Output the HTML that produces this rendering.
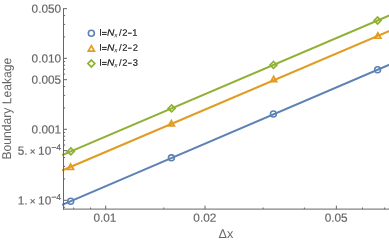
<!DOCTYPE html>
<html><head><meta charset="utf-8"><title>Boundary Leakage</title>
<style>html,body{margin:0;padding:0;background:#fff;width:389px;height:243px;overflow:hidden}svg{display:block;position:absolute;left:0;top:0;will-change:transform;text-rendering:geometricPrecision}</style></head>
<body>
<svg width="389" height="243" viewBox="0 0 389 243">
<rect width="389" height="243" fill="#fff"/>
<line x1="62.10" y1="204.88" x2="391.00" y2="63.96" stroke="#5E81B5" stroke-width="2.05"/>
<circle cx="70.70" cy="201.20" r="2.95" fill="none" stroke="#5E81B5" stroke-width="1.55"/>
<circle cx="171.40" cy="157.80" r="2.95" fill="none" stroke="#5E81B5" stroke-width="1.55"/>
<circle cx="273.40" cy="114.00" r="2.95" fill="none" stroke="#5E81B5" stroke-width="1.55"/>
<circle cx="377.60" cy="69.70" r="2.95" fill="none" stroke="#5E81B5" stroke-width="1.55"/>
<line x1="62.10" y1="170.53" x2="391.00" y2="30.21" stroke="#E19C24" stroke-width="2.05"/>
<path d="M70.60 163.95 L73.60 169.35 L67.60 169.35 Z" fill="none" stroke="#E19C24" stroke-width="1.7" stroke-linejoin="miter"/>
<path d="M171.40 120.55 L174.40 125.95 L168.40 125.95 Z" fill="none" stroke="#E19C24" stroke-width="1.7" stroke-linejoin="miter"/>
<path d="M273.70 76.35 L276.70 81.75 L270.70 81.75 Z" fill="none" stroke="#E19C24" stroke-width="1.7" stroke-linejoin="miter"/>
<path d="M377.90 32.85 L380.90 38.25 L374.90 38.25 Z" fill="none" stroke="#E19C24" stroke-width="1.7" stroke-linejoin="miter"/>
<line x1="62.10" y1="155.11" x2="391.00" y2="14.78" stroke="#8FB032" stroke-width="2.05"/>
<path d="M70.80 147.95 L74.25 151.40 L70.80 154.85 L67.35 151.40 Z" fill="none" stroke="#8FB032" stroke-width="1.7" stroke-linejoin="miter"/>
<path d="M171.60 104.95 L175.05 108.40 L171.60 111.85 L168.15 108.40 Z" fill="none" stroke="#8FB032" stroke-width="1.7" stroke-linejoin="miter"/>
<path d="M273.50 61.50 L276.95 64.95 L273.50 68.40 L270.05 64.95 Z" fill="none" stroke="#8FB032" stroke-width="1.7" stroke-linejoin="miter"/>
<path d="M377.60 17.05 L381.05 20.50 L377.60 23.95 L374.15 20.50 Z" fill="none" stroke="#8FB032" stroke-width="1.7" stroke-linejoin="miter"/>
<g stroke="#666666" stroke-width="1" fill="none">
<line x1="63.5" y1="8.17" x2="63.5" y2="209.6"/>
<line x1="63.0" y1="209.1" x2="389" y2="209.1"/>
<line x1="63.5" y1="8.67" x2="67.0" y2="8.67"/>
<line x1="63.5" y1="58.30" x2="67.0" y2="58.30"/>
<line x1="63.5" y1="79.67" x2="67.0" y2="79.67"/>
<line x1="63.5" y1="129.30" x2="67.0" y2="129.30"/>
<line x1="63.5" y1="150.67" x2="67.0" y2="150.67"/>
<line x1="63.5" y1="200.30" x2="67.0" y2="200.30"/>
<line x1="63.5" y1="15.55" x2="65.1" y2="15.55"/>
<line x1="63.5" y1="24.42" x2="65.1" y2="24.42"/>
<line x1="63.5" y1="36.93" x2="65.1" y2="36.93"/>
<line x1="63.5" y1="61.55" x2="65.1" y2="61.55"/>
<line x1="63.5" y1="65.18" x2="65.1" y2="65.18"/>
<line x1="63.5" y1="69.30" x2="65.1" y2="69.30"/>
<line x1="63.5" y1="74.05" x2="65.1" y2="74.05"/>
<line x1="63.5" y1="86.55" x2="65.1" y2="86.55"/>
<line x1="63.5" y1="95.42" x2="65.1" y2="95.42"/>
<line x1="63.5" y1="107.93" x2="65.1" y2="107.93"/>
<line x1="63.5" y1="132.55" x2="65.1" y2="132.55"/>
<line x1="63.5" y1="136.18" x2="65.1" y2="136.18"/>
<line x1="63.5" y1="140.30" x2="65.1" y2="140.30"/>
<line x1="63.5" y1="145.05" x2="65.1" y2="145.05"/>
<line x1="63.5" y1="157.55" x2="65.1" y2="157.55"/>
<line x1="63.5" y1="166.42" x2="65.1" y2="166.42"/>
<line x1="63.5" y1="178.93" x2="65.1" y2="178.93"/>
<line x1="63.5" y1="203.55" x2="65.1" y2="203.55"/>
<line x1="63.5" y1="207.18" x2="65.1" y2="207.18"/>
<line x1="105.70" y1="209.1" x2="105.70" y2="205.6"/>
<line x1="205.04" y1="209.1" x2="205.04" y2="205.6"/>
<line x1="336.36" y1="209.1" x2="336.36" y2="205.6"/>
<line x1="73.72" y1="209.1" x2="73.72" y2="207.5"/>
<line x1="90.60" y1="209.1" x2="90.60" y2="207.5"/>
<line x1="163.81" y1="209.1" x2="163.81" y2="207.5"/>
<line x1="263.15" y1="209.1" x2="263.15" y2="207.5"/>
<line x1="304.38" y1="209.1" x2="304.38" y2="207.5"/>
<line x1="362.49" y1="209.1" x2="362.49" y2="207.5"/>
<line x1="384.58" y1="209.1" x2="384.58" y2="207.5"/>
</g>
<g font-family="Liberation Sans, sans-serif" font-size="11.8" fill="#666666" stroke="#666666" stroke-width="0.15">
<text transform="matrix(1 0.0005 0 1 61.10 12.87)" text-anchor="end">0.050</text>
<text transform="matrix(1 0.0005 0 1 61.10 62.50)" text-anchor="end">0.010</text>
<text transform="matrix(1 0.0005 0 1 61.10 83.87)" text-anchor="end">0.005</text>
<text transform="matrix(1 0.0005 0 1 61.10 133.50)" text-anchor="end">0.001</text>
<text transform="matrix(1 0.0005 0 1 61.10 154.87)" text-anchor="end" word-spacing="-0.9">5. <tspan font-size="10">×</tspan> 10<tspan font-size="8.7" dy="-4.6">−4</tspan></text>
<text transform="matrix(1 0.0005 0 1 61.10 204.50)" text-anchor="end" word-spacing="-0.9">1. <tspan font-size="10">×</tspan> 10<tspan font-size="8.7" dy="-4.6">−4</tspan></text>
<text transform="matrix(1 0.0005 0 1 104.90 221.70)" text-anchor="middle">0.01</text>
<text transform="matrix(1 0.0005 0 1 204.84 221.70)" text-anchor="middle">0.02</text>
<text transform="matrix(1 0.0005 0 1 336.16 221.70)" text-anchor="middle">0.05</text>
</g>
<g font-family="Liberation Sans, sans-serif" font-size="12" fill="#666666">
<text transform="matrix(1 0.0005 0 1 218.60 237.90)" font-size="12.6">Δx</text>
<text transform="matrix(0.0005 -0.955 1 0.0005 11.1 159.5)" font-size="12.7">Boundary Leakage</text>
</g>
<circle cx="91.35" cy="33.30" r="3.0" fill="none" stroke="#5E81B5" stroke-width="1.6"/>
<g font-family="Liberation Sans, sans-serif" font-size="9.4" fill="#111111" stroke="#111111" stroke-width="0.12"><text transform="matrix(1 0.0005 0 1 99.50 35.75)" >l</text><rect x="102.0" y="31.90" width="4.7" height="0.9" stroke="none"/><rect x="102.0" y="33.95" width="4.7" height="0.9" stroke="none"/><text transform="matrix(1 0.0005 0 1 107.05 35.75)" font-style="italic" textLength="7.4" lengthAdjust="spacingAndGlyphs">N</text><text transform="matrix(1 0.0005 0 1 114.30 37.25)" font-style="italic" font-size="6.4" stroke="none">x</text><text transform="matrix(1 0.0005 0 1 119.00 35.75)" >/</text><text transform="matrix(1 0.0005 0 1 122.20 35.75)" >2</text><rect x="127.9" y="32.68" width="3.8" height="1.0" stroke="none"/><text transform="matrix(1 0.0005 0 1 132.20 35.75)" >1</text></g>
<path d="M91.35 45.70 L94.40 51.10 L88.30 51.10 Z" fill="none" stroke="#E19C24" stroke-width="1.7" stroke-linejoin="miter"/>
<g font-family="Liberation Sans, sans-serif" font-size="9.4" fill="#111111" stroke="#111111" stroke-width="0.12"><text transform="matrix(1 0.0005 0 1 99.50 50.75)" >l</text><rect x="102.0" y="46.90" width="4.7" height="0.9" stroke="none"/><rect x="102.0" y="48.95" width="4.7" height="0.9" stroke="none"/><text transform="matrix(1 0.0005 0 1 107.05 50.75)" font-style="italic" textLength="7.4" lengthAdjust="spacingAndGlyphs">N</text><text transform="matrix(1 0.0005 0 1 114.30 52.25)" font-style="italic" font-size="6.4" stroke="none">x</text><text transform="matrix(1 0.0005 0 1 119.00 50.75)" >/</text><text transform="matrix(1 0.0005 0 1 122.20 50.75)" >2</text><rect x="127.9" y="47.68" width="3.8" height="1.0" stroke="none"/><text transform="matrix(1 0.0005 0 1 132.80 50.75)" >2</text></g>
<path d="M91.35 60.05 L94.80 63.50 L91.35 66.95 L87.90 63.50 Z" fill="none" stroke="#8FB032" stroke-width="1.7" stroke-linejoin="miter"/>
<g font-family="Liberation Sans, sans-serif" font-size="9.4" fill="#111111" stroke="#111111" stroke-width="0.12"><text transform="matrix(1 0.0005 0 1 99.50 65.75)" >l</text><rect x="102.0" y="61.90" width="4.7" height="0.9" stroke="none"/><rect x="102.0" y="63.95" width="4.7" height="0.9" stroke="none"/><text transform="matrix(1 0.0005 0 1 107.05 65.75)" font-style="italic" textLength="7.4" lengthAdjust="spacingAndGlyphs">N</text><text transform="matrix(1 0.0005 0 1 114.30 67.25)" font-style="italic" font-size="6.4" stroke="none">x</text><text transform="matrix(1 0.0005 0 1 119.00 65.75)" >/</text><text transform="matrix(1 0.0005 0 1 122.20 65.75)" >2</text><rect x="127.9" y="62.68" width="3.8" height="1.0" stroke="none"/><text transform="matrix(1 0.0005 0 1 132.80 65.75)" >3</text></g>
</svg>
</body></html>
